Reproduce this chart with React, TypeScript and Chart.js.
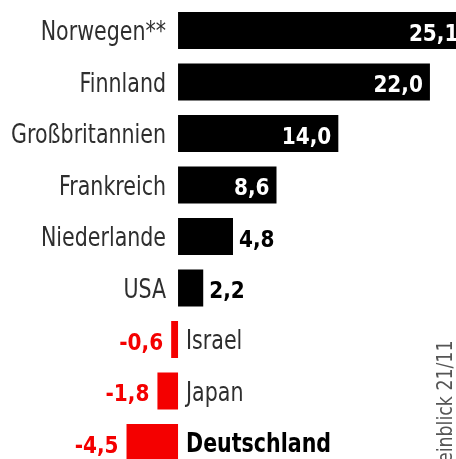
import React, { useEffect, useRef } from 'react';
import { Chart, registerables } from 'chart.js';

Chart.register(...registerables);

const categories = ['Norwegen**', 'Finnland', 'Großbritannien', 'Frankreich', 'Niederlande', 'USA', 'Israel', 'Japan', 'Deutschland'];
const values = [25.1, 22.0, 14.0, 8.6, 4.8, 2.2, -0.6, -1.8, -4.5];
const valueLabels = ['25,1', '22,0', '14,0', '8,6', '4,8', '2,2', '-0,6', '-1,8', '-4,5'];
const boldCategories = ['Deutschland'];
const sourceNote = 'einblick 21/11';

const RED = '#f40000';
const BLACK = '#000000';
const TEXT = '#2e2e2e';
const CAT_FONT = "'DejaVu Sans Condensed', 'Liberation Sans Narrow', sans-serif";
const VAL_FONT = "'DejaVu Sans Condensed', 'DejaVu Sans', sans-serif";

function drawText(ctx: CanvasRenderingContext2D, text: string, x: number, y: number, align: CanvasTextAlign, sx: number) {
  ctx.save();
  ctx.translate(x, y);
  ctx.scale(sx, 1);
  ctx.textAlign = align;
  ctx.textBaseline = 'alphabetic';
  ctx.fillText(text, 0, 0);
  ctx.restore();
}

export default function App() {
  const ref = useRef<HTMLCanvasElement>(null);

  useEffect(() => {
    if (!ref.current) return;
    const labelPlugin = {
      id: 'barLabels',
      afterDatasetsDraw(chart: any) {
        const ctx = chart.ctx as CanvasRenderingContext2D;
        const meta = chart.getDatasetMeta(0);
        ctx.save();
        meta.data.forEach((bar: any, i: number) => {
          const v = values[i];
          const end = bar.x;
          const base = bar.base;
          const y = bar.y;
          const bold = boldCategories.includes(categories[i]);
          if (v >= 0) {
            ctx.font = `26px ${CAT_FONT}`;
            ctx.fillStyle = TEXT;
            drawText(ctx, categories[i], base - 12, y + 9.5, 'right', 0.88);
            ctx.font = `bold 23px ${VAL_FONT}`;
            if (v >= 8) {
              ctx.fillStyle = '#ffffff';
              drawText(ctx, valueLabels[i], end - 7, y + 10, 'right', 0.97);
            } else {
              ctx.fillStyle = BLACK;
              drawText(ctx, valueLabels[i], end + 6, y + 10, 'left', 0.97);
            }
          } else {
            ctx.font = `${bold ? 'bold ' : ''}26px ${CAT_FONT}`;
            ctx.fillStyle = bold ? BLACK : TEXT;
            drawText(ctx, categories[i], base + 8, y + 9.5, 'left', 0.88);
            ctx.font = `bold 23px ${VAL_FONT}`;
            ctx.fillStyle = RED;
            drawText(ctx, valueLabels[i], end - 8, y + 10, 'right', 0.97);
          }
        });
        // source note, rotated
        ctx.translate(452, 463);
        ctx.rotate(-Math.PI / 2);
        ctx.font = `21px 'DejaVu Sans Condensed', sans-serif`;
        ctx.fillStyle = '#555555';
        drawText(ctx, sourceNote, 0, 0, 'left', 0.92);
        ctx.restore();
      },
    };

    const chart = new Chart(ref.current, {
      type: 'bar',
      data: {
        labels: categories,
        datasets: [
          {
            data: values,
            backgroundColor: values.map((v) => (v < 0 ? RED : BLACK)),
            borderWidth: 0,
            categoryPercentage: 1,
            barPercentage: 0.72,
          },
        ],
      },
      options: {
        indexAxis: 'y',
        responsive: false,
        animation: false,
        devicePixelRatio: 1,
        layout: { padding: { top: 4.75, bottom: 1.75, left: 0, right: 0 } },
        scales: {
          x: { type: 'linear', min: -15.55, max: 25.5, display: false },
          y: { display: false, offset: true },
        },
        plugins: { legend: { display: false }, tooltip: { enabled: false } },
      },
      plugins: [labelPlugin],
    } as any);
    return () => chart.destroy();
  }, []);

  return (
    <div style={{ position: 'fixed', left: 0, top: 0, width: 456, height: 459, overflow: 'hidden', background: '#ffffff' }}>
      <canvas ref={ref} width={470} height={470} style={{ display: 'block', width: 470, height: 470 }} />
    </div>
  );
}
